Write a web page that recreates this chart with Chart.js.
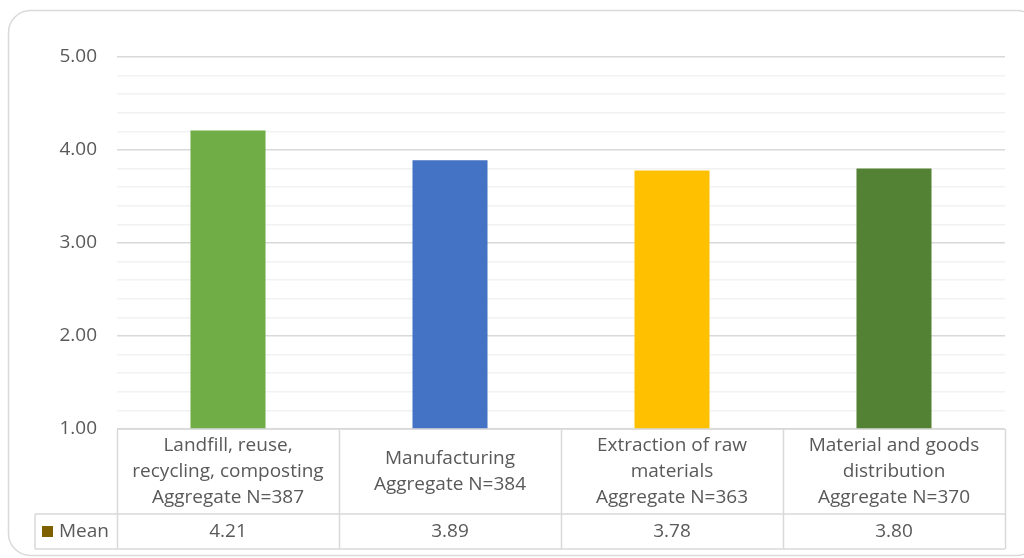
<!DOCTYPE html>
<html>
<head>
<meta charset="utf-8">
<script src="https://cdn.jsdelivr.net/npm/chart.js@4"></script>
<style>
  html, body { margin: 0; padding: 0; background: #fff; }
  #wrap { width: 1024px; height: 558px; }
</style>
</head>
<body>
<div id="wrap"><canvas id="mean-chart"></canvas></div>
<script>
// 数据
const categories = [
    ['Landfill, reuse,', 'recycling, composting', 'Aggregate N=387'],
    ['Manufacturing', 'Aggregate N=384'],
    ['Extraction of raw', 'materials', 'Aggregate N=363'],
    ['Material and goods', 'distribution', 'Aggregate N=370']
];
const means = [4.21, 3.89, 3.78, 3.80];
const seriesName = 'Mean';
const yMin = 1, yMax = 5;

const barColors = ['#70ad47', '#4472c4', '#ffc000', '#548235'];
const textColor = '#595959';
const lineColor = '#d9d9d9';
const fontFamily = '"Open Sans", "Liberation Sans", sans-serif';

// 外框 + 底部数据表
const tablePlugin = {
    id: 'dataTable',
    beforeDraw(chart) {
        const ctx = chart.ctx;
        ctx.save();
        ctx.strokeStyle = lineColor;
        ctx.lineWidth = 1.5;
        ctx.beginPath();
        ctx.roundRect(8.5, 10.5, 1030, 545, 22);
        ctx.stroke();
        ctx.restore();
    },
    afterDraw(chart) {
        const ctx = chart.ctx;
        const area = chart.chartArea;
        const x = chart.scales.x;
        const catW = (area.right - area.left) / categories.length;
        const top = area.bottom;
        const mid = top + 85;
        const bot = mid + 35;
        const legendLeft = 35;

        ctx.save();
        ctx.strokeStyle = lineColor;
        ctx.lineWidth = 1.5;
        ctx.beginPath();
        ctx.moveTo(area.left, top); ctx.lineTo(area.right, top);
        ctx.moveTo(legendLeft, mid); ctx.lineTo(area.right, mid);
        ctx.moveTo(legendLeft, bot); ctx.lineTo(area.right, bot);
        ctx.moveTo(legendLeft, mid); ctx.lineTo(legendLeft, bot);
        for (let i = 0; i <= categories.length; i++) {
            const cx = Math.round(area.left + i * catW) + 0.5;
            ctx.moveTo(cx, top); ctx.lineTo(cx, bot);
        }
        ctx.stroke();

        ctx.fillStyle = textColor;
        ctx.font = '19px ' + fontFamily;
        ctx.textAlign = 'center';
        ctx.textBaseline = 'middle';
        const lineH = 26;
        categories.forEach((lines, i) => {
            const cx = x.getPixelForValue(i);
            const y0 = top + 85 / 2 - (lines.length - 1) * lineH / 2;
            lines.forEach((t, j) => ctx.fillText(t, cx, y0 + j * lineH));
            ctx.fillText(means[i].toFixed(2), cx, mid + 17.5);
        });

        // 图例
        ctx.fillStyle = '#7f6000';
        ctx.fillRect(42, mid + 12, 11, 11);
        ctx.fillStyle = textColor;
        ctx.textAlign = 'left';
        ctx.fillText(seriesName, 59, mid + 17.5);
        ctx.restore();
    }
};

const isMajor = (v) => Math.abs(v - Math.round(v)) < 1e-6;

new Chart(document.getElementById('mean-chart'), {
    type: 'bar',
    data: {
        labels: categories,
        datasets: [{
            label: seriesName,
            data: means,
            backgroundColor: barColors,
            categoryPercentage: 1,
            barPercentage: 0.338
        }]
    },
    options: {
        responsive: true,
        maintainAspectRatio: false,
        animation: false,
        layout: {
            padding: { top: 57, right: 19, bottom: 129, left: 0 }
        },
        scales: {
            x: {
                display: false
            },
            y: {
                min: yMin,
                max: yMax,
                border: { display: false },
                ticks: {
                    stepSize: 0.2,
                    autoSkip: false,
                    padding: 20,
                    color: textColor,
                    font: { family: fontFamily, size: 19 },
                    callback: (v) => isMajor(v) ? Number(v).toFixed(2) : ''
                },
                grid: {
                    drawTicks: false,
                    lineWidth: 1.5,
                    color: (c) => isMajor(c.tick.value) ? '#d9d9d9' : '#f2f2f2'
                },
                afterFit: (scale) => { scale.width = 117; }
            }
        },
        plugins: {
            legend: { display: false },
            tooltip: { enabled: false }
        }
    },
    plugins: [tablePlugin]
});
</script>
</body>
</html>
